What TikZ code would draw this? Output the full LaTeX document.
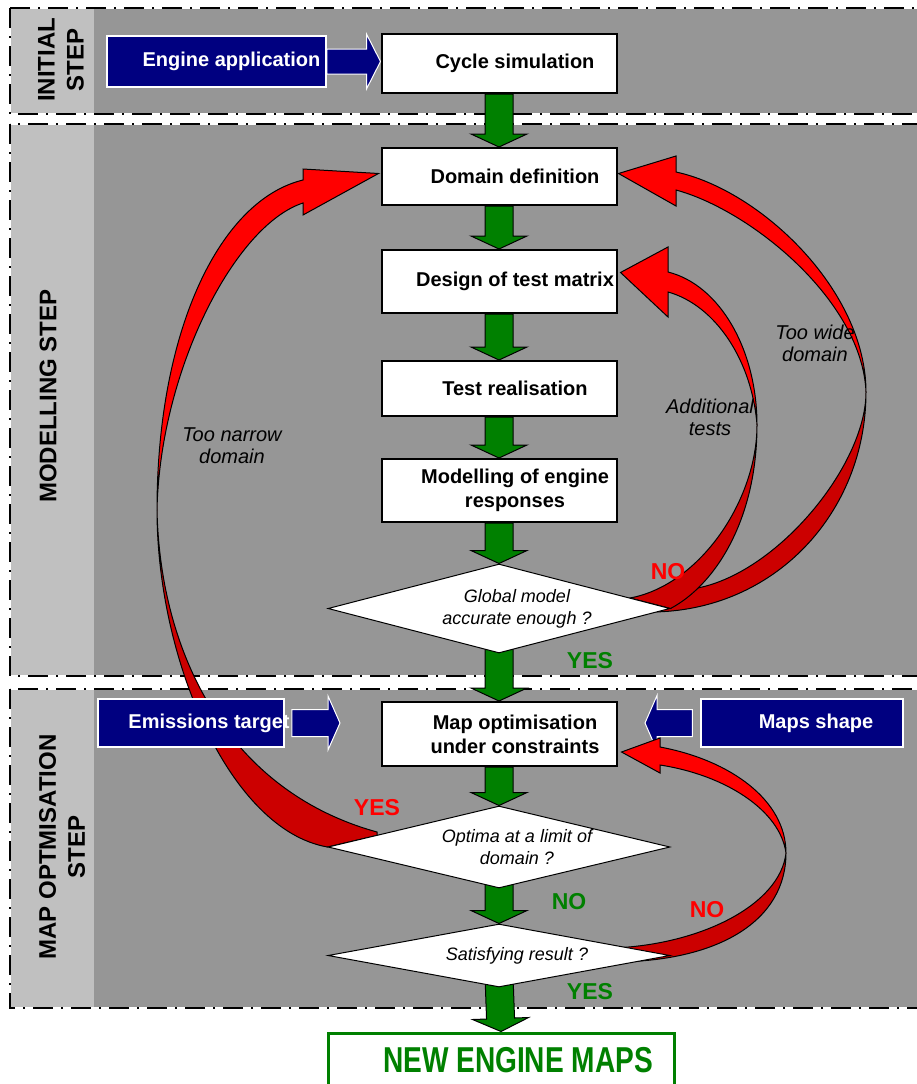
\documentclass[tikz,border=0pt]{standalone}
\usepackage{fontspec}
\setmainfont{Liberation Sans}
\newfontfamily\narrowsans[FakeStretch=0.78]{Liberation Sans}
\usetikzlibrary{shapes.geometric,calc}
\definecolor{navyblue}{rgb}{0,0,0.5}
\definecolor{darkgreen}{rgb}{0,0.5,0}
\definecolor{darkred}{rgb}{0.8,0,0}
\definecolor{panelgray}{RGB}{150,150,150}
\definecolor{sidegray}{RGB}{192,192,192}
\pgfdeclarelayer{panels}
\pgfdeclarelayer{flow}
\pgfdeclarelayer{loops}
\pgfsetlayers{panels,flow,loops,main}

% block arrow: style, from, to, shaft half width, head half width, head length
\newcommand{\blockarrow}[6]{%
  \coordinate (ba-h) at ($(#3)!#6!(#2)$);
  \filldraw[#1] ($(#2)!#4!90:(#3)$) -- ($(ba-h)!#4!90:(#3)$) -- ($(ba-h)!#5!90:(#3)$) -- (#3)
    -- ($(ba-h)!#5!-90:(#3)$) -- ($(ba-h)!#4!-90:(#3)$) -- ($(#2)!#4!-90:(#3)$) -- cycle;}

\begin{document}
\begin{tikzpicture}
  [x=1pt,y=-1pt,
   box/.style={draw,line width=2pt,fill=white,minimum width=235,inner sep=0},
   boxtxt/.style={font=\bfseries\fontsize{20}{24}\selectfont,align=center,xshift=16},
   decision/.style={diamond,draw,line width=1pt,fill=white,minimum width=342,inner sep=0},
   dectxt/.style={font=\itshape\fontsize{18}{22}\selectfont,align=center,xshift=18},
   inputN/.style={draw=white,line width=1.5pt,fill=navyblue,minimum height=48,inner sep=0},
   inputtxt/.style={text=white,font=\bfseries\fontsize{20}{24}\selectfont},
   steptxt/.style={rotate=90,align=center,font=\bfseries\fontsize{24}{29}\selectfont},
   loopN/.style={font=\itshape\fontsize{20}{22}\selectfont,align=center},
   yesno/.style={font=\bfseries\fontsize{23}{26}\selectfont},
   border/.style={draw,line width=2pt,dash pattern=on 20pt off 8pt on 2pt off 8pt},
   greenarr/.style={fill=darkgreen,draw=black,line width=1pt},
   bluearr/.style={fill=navyblue,draw=white,line width=1pt},
   redup/.style={fill=red,draw=black,line width=1pt},
   reddn/.style={fill=darkred,draw=black,line width=1pt},
  ]

 \useasboundingbox (0,0) rectangle (916,1084);

 % steps
 \begin{pgfonlayer}{panels}
  \fill[white] (0,0) rectangle (916,1084);
  \foreach \ya/\yb in {8/114,124/676,689/1008}{
    \fill[panelgray] (11,{\ya+1}) rectangle (940,{\yb-1});
    \fill[sidegray] (11,{\ya+1}) rectangle (94,{\yb-1});
    \draw[border] (10,\ya) rectangle (940,\yb);
  }
 \end{pgfonlayer}

 \node[steptxt] (initial) at (61,60) {INITIAL\\STEP};
 \node[steptxt] (modelling) at (48,396) {MODELLING STEP};
 \node[steptxt] (mapstep) at (62,847) {MAP OPTMISATION\\STEP};

 % main flow
 \node[box,minimum height=59,label={[boxtxt]center:Cycle simulation}] (cyc) at (499,63.5) {};
 \node[box,minimum height=57,label={[boxtxt]center:Domain definition}] (dom) at (499,176.5) {};
 \node[box,minimum height=63,label={[boxtxt]center:Design of test matrix}] (des) at (499,281.5) {};
 \node[box,minimum height=55,label={[boxtxt]center:Test realisation}] (tst) at (499,388.5) {};
 \node[box,minimum height=63,label={[boxtxt]center:{Modelling of engine\\responses}}] (mod) at (499,490.5) {};
 \node[decision,minimum height=89,label={[dectxt]center:{Global model\\accurate enough ?}}] (glob) at (499,608.5) {};
 \node[box,minimum height=64,label={[boxtxt]center:{Map optimisation\\under constraints}}] (mapopt) at (499,734) {};
 \node[decision,minimum height=82,label={[dectxt]center:{Optima at a limit of\\domain ?}}] (optd) at (499,847) {};
 \node[decision,minimum height=63,label={[dectxt]center:Satisfying result ?}] (satd) at (499,955.5) {};
 \node[draw=darkgreen,line width=3pt,fill=white,minimum width=346,minimum height=60] (newmaps) at (501,1063) {};
 \node[text=darkgreen,font=\narrowsans\bfseries\fontsize{36}{40}\selectfont] (newmaps-t) at (518,1060) {NEW ENGINE MAPS};

 % inputs
 \node[inputN,minimum width=219,minimum height=51,label={[inputtxt,xshift=15]center:Engine application}] (engapp) at (216.5,61.5) {};
 \node[inputN,minimum width=186,label={[inputtxt,xshift=18]center:Emissions target}] (emis) at (191,723) {};
 \node[inputN,minimum width=202,label={[inputtxt,xshift=14]center:Maps shape}] (maps) at (802,723) {};

 % loop labels
 \node[loopN] (narrow) at (232,446) {Too narrow\\domain};
 \node[loopN] (additional) at (710,417) {Additional\\tests};
 \node[loopN] (wide) at (815,343) {Too wide\\domain};
 \node[yesno,text=red] (no1) at (668,572) {NO};
 \node[yesno,text=darkgreen] (yes1) at (590,661) {YES};
 \node[yesno,text=red] (yes2) at (377,808) {YES};
 \node[yesno,text=darkgreen] (no2) at (569,902) {NO};
 \node[yesno,text=red] (no3) at (707,910) {NO};
 \node[yesno,text=darkgreen] (yes3) at (590,992) {YES};

 \begin{pgfonlayer}{flow}
  \coordinate (glob-out) at ($(glob.south)+(0,-12)$);
  \coordinate (optd-out) at ($(optd.south)+(0,-12)$);
  \coordinate (satd-out) at ($(satd.south)+(0,-12)$);
  \foreach \a/\b in {cyc.south/dom.north,dom.south/des.north,des.south/tst.north,
                     tst.south/mod.north,mod.south/glob.north,glob-out/mapopt.north,
                     mapopt.south/optd.north,optd-out/satd.north,satd-out/newmaps.north}
    {\blockarrow{greenarr}{\a}{\b}{14pt}{28pt}{13pt}}
  \coordinate (cyc-in) at (cyc.west |- engapp.east);
  \coordinate (emis-out) at ($(emis.east)+(7,0)$);
  \coordinate (emis-in) at (340,723);
  \coordinate (maps-out) at ($(maps.west)+(-8,0)$);
  \coordinate (maps-in) at (645,723);
  \blockarrow{bluearr}{engapp.east}{cyc-in}{12.5pt}{27.5pt}{14pt}
  \blockarrow{bluearr}{emis-out}{emis-in}{13.5pt}{27pt}{12pt}
  \blockarrow{bluearr}{maps-out}{maps-in}{13.5pt}{27.5pt}{12pt}
 \end{pgfonlayer}

 \begin{pgfonlayer}{loops}
  % too wide domain
  \coordinate (wide-tip) at ($(dom.east)+(1,-3)$);
  \filldraw[reddn] (866,392) .. controls (866,513) and (774,612) .. (650,612) -- (680,590)
    .. controls (765,588) and (866,470) .. (866,392) -- cycle;
  \filldraw[redup] (866,392) .. controls (866,290) and (760,190) .. (676,172) -- (676,156) -- (wide-tip)
    -- (676,206) -- (676,190) .. controls (750,210) and (862,300) .. (866,392) -- cycle;
  % additional tests
  \coordinate (add-tip) at ($(des.east)+(3,-9)$);
  \filldraw[reddn] (757,425) .. controls (757,520) and (715,585) .. (glob.east) -- (630,598)
    .. controls (700,585) and (757,500) .. (757,425) -- cycle;
  \filldraw[redup] (757,425) .. controls (757,350) and (720,285) .. (668,272) -- (668,247) -- (add-tip)
    -- (668,317) -- (668,292) .. controls (715,305) and (752,360) .. (757,425) -- cycle;
  % too narrow domain
  \coordinate (narrow-tip) at ($(dom.west)+(-2,-3)$);
  \filldraw[reddn] (157,510) .. controls (157,660) and (230,830) .. (optd.west) -- (377,835.5) -- (377,832)
    .. controls (225,790) and (160,650) .. (157,510) -- cycle;
  \filldraw[redup] (157,510) .. controls (157,330) and (220,200) .. (303,180) -- (303,169) -- (narrow-tip)
    -- (303,215) -- (303,203) .. controls (235,225) and (160,370) .. (157,510) -- cycle;
  % not satisfying
  \coordinate (no-tip) at ($(mapopt.east)+(4,18)$);
  \filldraw[reddn] (786,853) .. controls (786,920) and (720,962) .. (612,962) -- (612,948)
    .. controls (700,945) and (780,905) .. (786,853) -- cycle;
  \filldraw[redup] (786,853) .. controls (786,800) and (730,760) .. (660,747) -- (660,738) -- (no-tip)
    -- (660,773) -- (660,765) .. controls (725,775) and (780,810) .. (786,853) -- cycle;
 \end{pgfonlayer}

\end{tikzpicture}
\end{document}
